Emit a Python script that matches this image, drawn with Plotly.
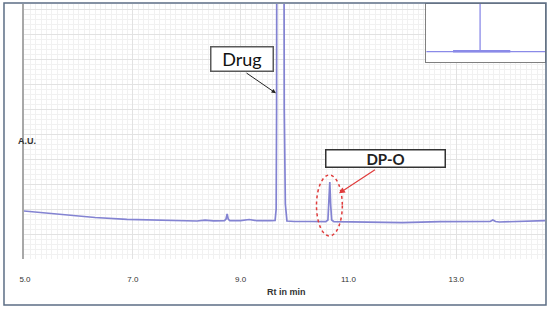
import plotly.graph_objects as go

# main chromatogram (Rt in min, arbitrary units)
rt = [4.98, 5.4, 5.83, 6.3, 6.89, 7.5, 8.19, 8.34, 8.5, 8.7, 8.73, 8.75, 8.77, 8.8,
      9.0, 9.16, 9.3, 9.55, 9.64, 9.66, 9.668, 9.675, 9.80, 9.81, 9.83, 9.86,
      10.0, 10.3, 10.58, 10.62, 10.64, 10.655, 10.67, 10.69, 10.73, 11.0, 11.4,
      12.0, 12.7, 13.55, 13.63, 13.68, 13.73, 13.8, 14.2, 14.65]
au = [48, 46, 44, 41.5, 39.7, 38.8, 38, 38.8, 38.2, 38.3, 40, 45, 40, 38.3,
      38.3, 39.5, 38.3, 38.3, 38.5, 50, 150, 500, 500, 150, 55, 38,
      37.5, 37.5, 37.3, 39, 55, 77, 55, 39, 37.3, 37, 36.3,
      36.3, 37.3, 37, 37.5, 39, 37.5, 37, 37.5, 38.3]

# inset (full-scale view)
inset_x = [0, 4.53, 4.535, 4.54, 10]
inset_y = [17.8, 17.8, 300, 17.8, 17.8]
inset_hump_x = [2.26, 7.08]
inset_hump_y = [18.6, 18.6]

tick_vals = [5, 7, 9, 11, 13]
tick_text = ['5.0', '7.0', '9.0', '11.0', '13.0']

line_col = '#8383d2'

fig = go.Figure()
fig.add_trace(go.Scatter(x=rt, y=au, mode='lines',
                         line=dict(color=line_col, width=1.7), showlegend=False))
fig.add_trace(go.Scatter(x=inset_x, y=inset_y, mode='lines', xaxis='x2', yaxis='y2',
                         line=dict(color='#8a8ae8', width=1.2), showlegend=False))
fig.add_trace(go.Scatter(x=inset_hump_x, y=inset_hump_y, mode='lines', xaxis='x2', yaxis='y2',
                         line=dict(color='#8a8ae8', width=2.5), showlegend=False))

fig.update_layout(
    width=550, height=309,
    margin=dict(l=24, r=5, t=4, b=50),
    paper_bgcolor='white', plot_bgcolor='white',
    hovermode=False,
    xaxis=dict(range=[4.982, 14.647], tickvals=tick_vals, ticktext=tick_text,
               showgrid=True, gridcolor='#e2e2e2', gridwidth=1, dtick=0.5,
               minor=dict(dtick=0.1, showgrid=True, gridcolor='#f1f1f1'),
               ticks='', ticklabelstandoff=14, zeroline=False,
               tickfont=dict(family='Liberation Sans', size=8, color='#333')),
    yaxis=dict(range=[0, 255], showticklabels=False, ticks='', zeroline=False,
               showgrid=True, gridcolor='#e2e2e2', dtick=25,
               minor=dict(dtick=5, showgrid=True, gridcolor='#f1f1f1'),
               showline=True, linecolor='#a8a8a8', linewidth=2),
    xaxis2=dict(domain=[0.772, 1], range=[0, 10], anchor='y2', showgrid=False,
                zeroline=False, showticklabels=False, ticks='',
                showline=True, mirror=True, linecolor='#808080', linewidth=1),
    yaxis2=dict(domain=[0.7725, 1], range=[0, 100], anchor='x2', showgrid=False,
                zeroline=False, showticklabels=False, ticks='',
                showline=True, mirror=True, linecolor='#808080', linewidth=1),
)

# outer frame
fig.add_shape(type='rect', xref='paper', yref='paper', x0=-0.0384, x1=1.0019,
              y0=-0.1804, y1=1.0039, line=dict(color='#5c6e85', width=1.5))

# red dotted ellipse round DP-O
fig.add_shape(type='circle', xref='x', yref='y', x0=10.408, x1=10.887, y0=23, y1=84,
              line=dict(color='#e03c3c', width=1.5, dash='dot'))

# Drug label + arrow
fig.add_annotation(x=9.657, y=165.7, ax=-31, ay=-21.3, text='', showarrow=True,
                   arrowhead=2, arrowsize=0.9, arrowwidth=1, arrowcolor='#222')
fig.add_annotation(x=9.657, y=165.7, ax=-34.5, ay=-34.3, text='Drug', showarrow=True,
                   arrowcolor='rgba(0,0,0,0)', width=61, height=23, borderpad=0,
                   bordercolor='#5a5a5a', borderwidth=1.5, bgcolor='white',
                   font=dict(family='Lato', size=18, color='#111'))

# DP-O label + arrow
fig.add_annotation(x=10.825, y=65.7, ax=37.5, ay=-24.5, text='', showarrow=True,
                   arrowhead=2, arrowsize=1, arrowwidth=1.2, arrowcolor='#e03c3c')
fig.add_annotation(x=10.825, y=65.7, ax=46.7, ay=-34.8, text='<b>DP-O</b>', showarrow=True,
                   arrowcolor='rgba(0,0,0,0)', width=118, height=16, borderpad=0,
                   bordercolor='#333', borderwidth=1.5, bgcolor='white',
                   font=dict(family='Lato', size=15, color='#222'))

# axis titles
fig.add_annotation(xref='paper', yref='paper', x=(286 - 24) / 521, y=(259 - 299) / 255,
                   text='<b>Rt in min</b>', showarrow=False,
                   font=dict(family='Liberation Sans', size=9, color='#333'))
fig.add_annotation(xref='paper', yref='paper', x=(16 - 24) / 521, y=(259 - 141) / 255,
                   text='<b>A.U.</b>', showarrow=False,
                   font=dict(family='Liberation Sans', size=9, color='#333'))

# page body has a default 8px margin; drop it so the figure sits at 0,0
fig.write_html("out.html", config={'displayModeBar': False},
               post_script="document.body.style.margin='0px';")
